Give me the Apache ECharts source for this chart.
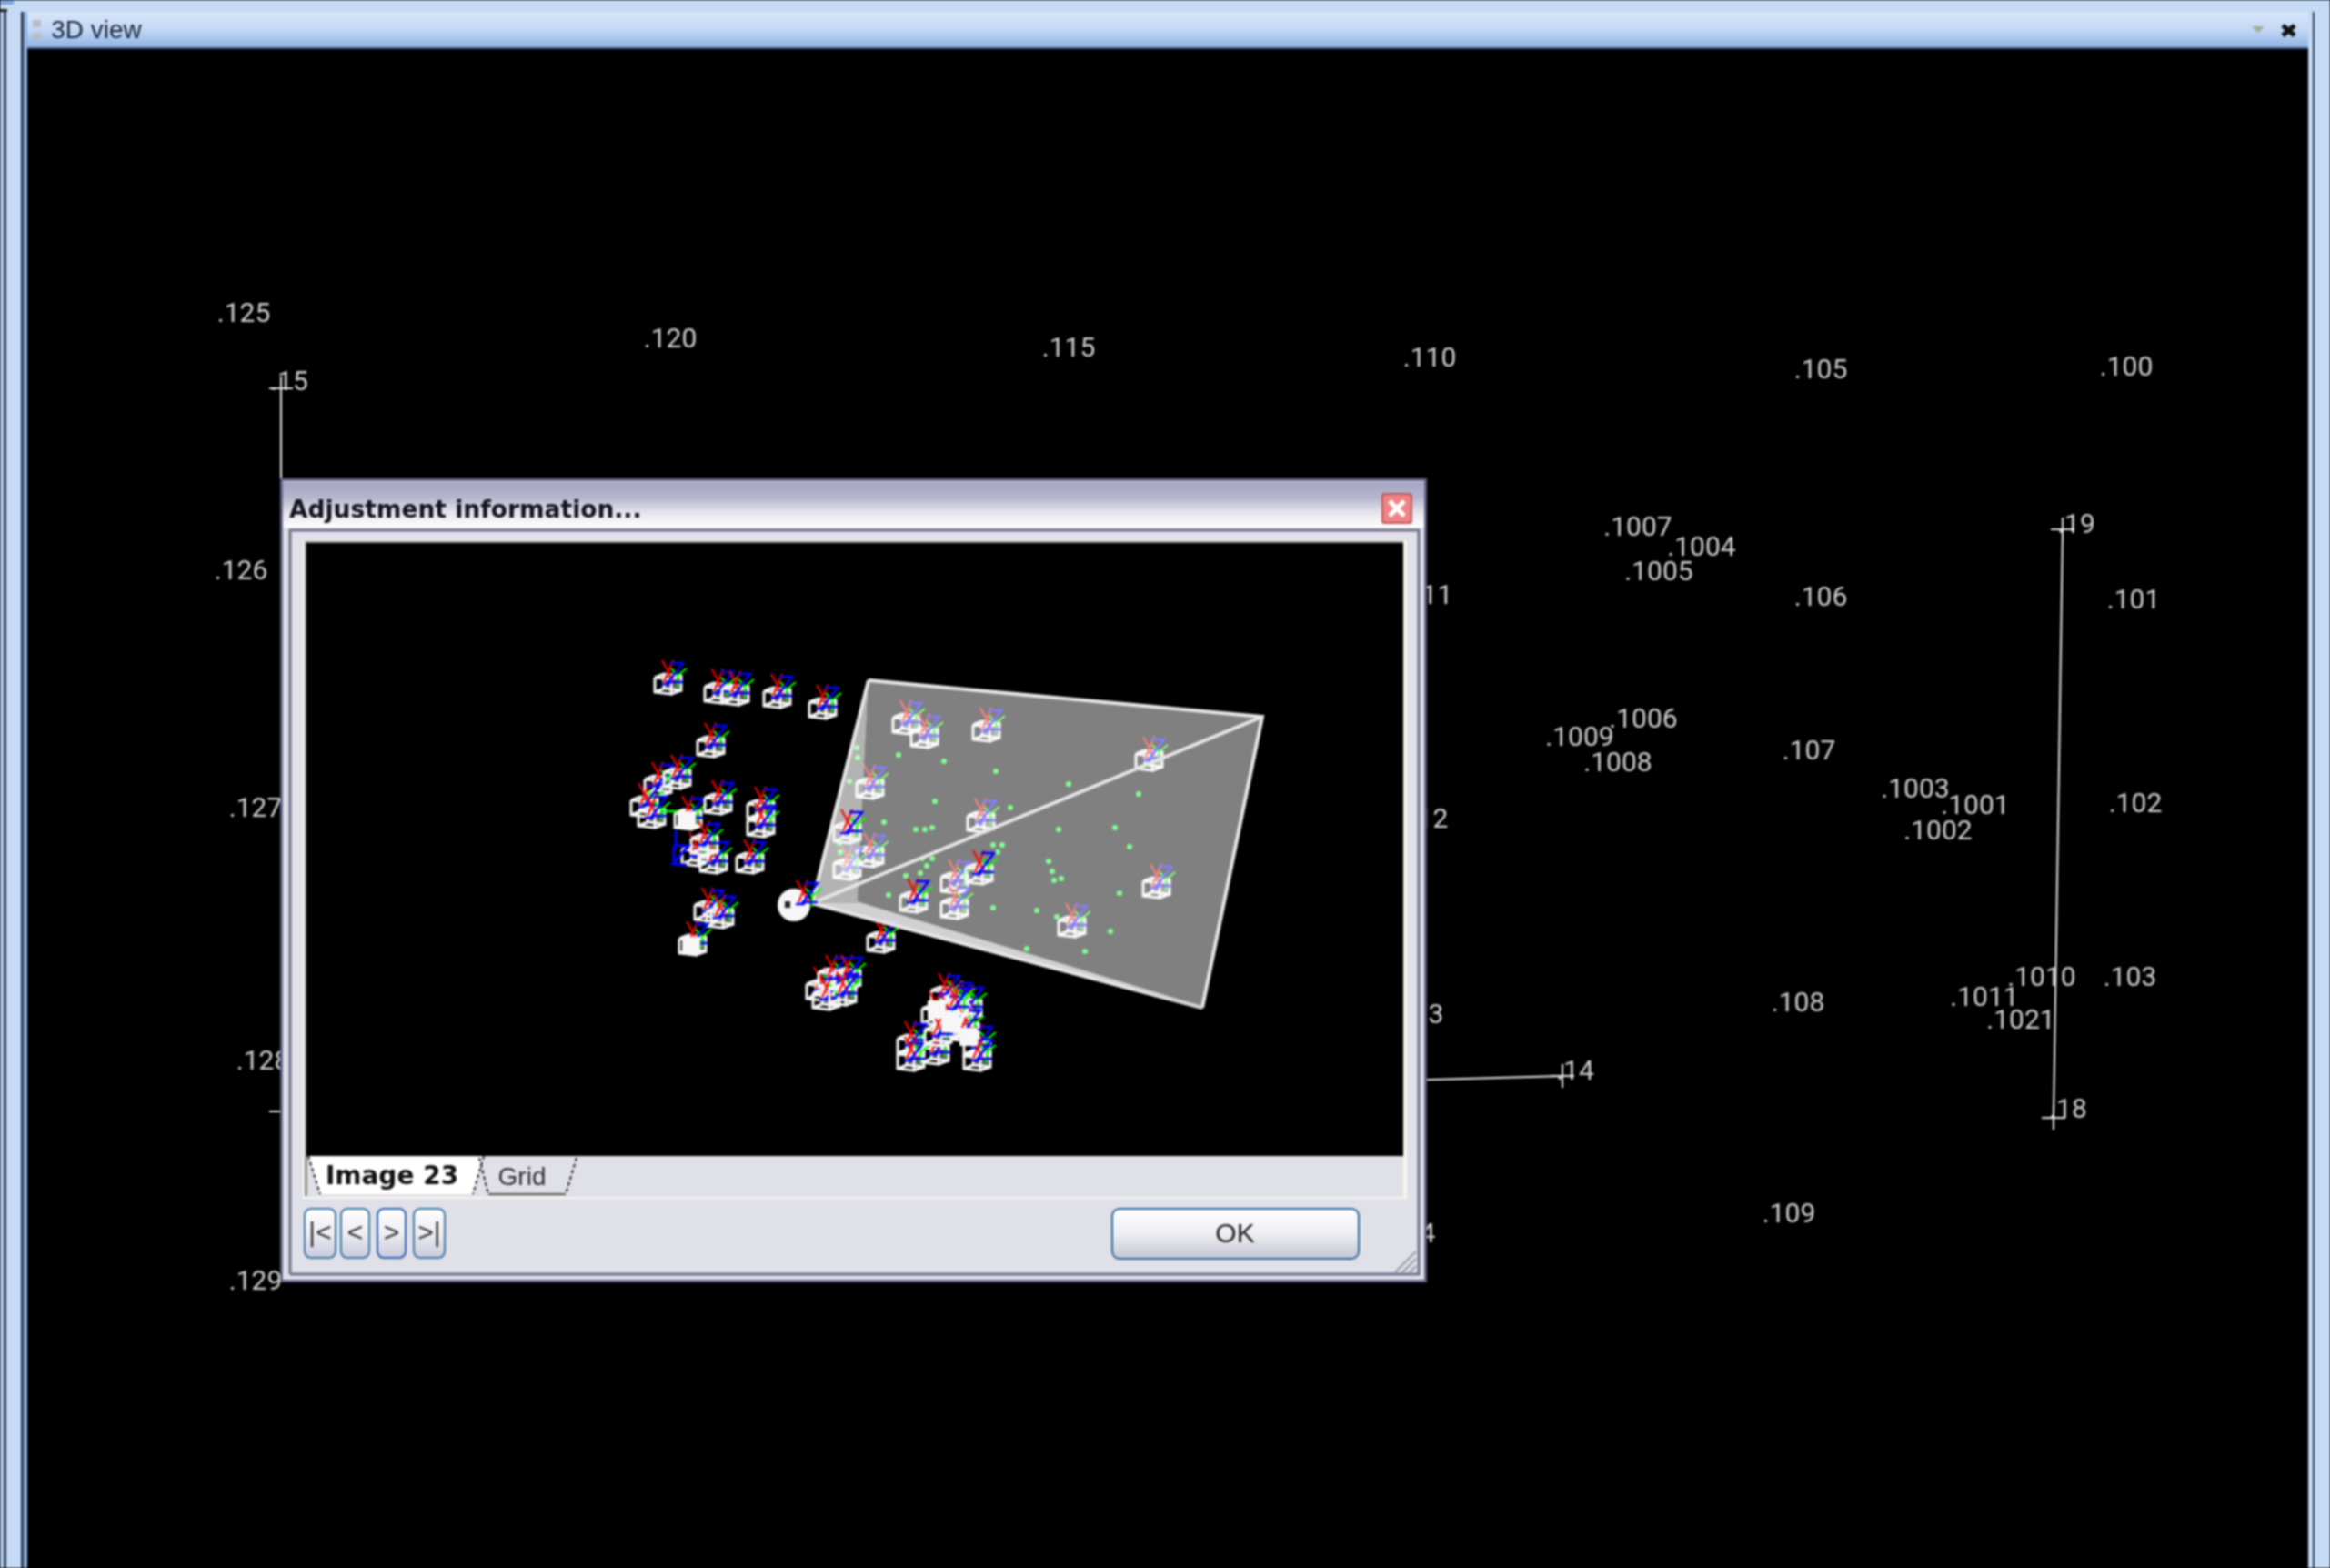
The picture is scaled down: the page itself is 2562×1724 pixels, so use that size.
<!DOCTYPE html>
<html>
<head>
<meta charset="utf-8">
<style>html,body{margin:0;padding:0;background:#000}#c{width:2562px;height:1724px}#c canvas{filter:blur(0.8px)}</style>
<script src="https://cdn.jsdelivr.net/npm/echarts@6/dist/echarts.min.js"></script>
</head>
<body>
<div id="c"></div>
<script>
// ---- picture data (x to the right, y downward) ----
const labelNames = ['.125','.120','.115','.110','.105','.100','.126','.127','.128','.129','.15','.19','.14','.18','.111','.112','.113','.114','.106','.107','.108','.109','.101','.102','.103','.1007','.1004','.1005','.1006','.1009','.1008','.1003','.1001','.1002','.1010','.1011','.1021'];
const labelX = [268,737,1175,1572,2002,2338,265,281,289,281,318,2283,1732,2274,1568,1563,1558,1549,2002,1989,1977,1967,2346,2348,2342,1801,1871,1824,1807,1737,1779,2106,2172,2131,2245,2182,2222];
const labelY = [343,371,381,392,405,402,626,887,1165,1407,418,575,1176,1218,653,899,1114,1355,655,824,1101,1333,658,882,1073,578,600,627,789,809,837,866,884,912,1073,1095,1120];
const controlLeftX = [309,309,1718], controlLeftY = [427,1222,1183];
const controlRightX = [2268,2258], controlRightY = [582,1229];
const crossX = [309,2268,1718,2258,309], crossY = [427,582,1183,1229,1222];
const tiePointX = [988,1038,1095,1175,1252,1028,1111,972,1007,1017,1025,1164,1226,1242,1092,1102,1097,1014,1025,1019,1012,996,1153,1157,1167,1159,1231,977,1092,1140,1162,1221,1129,1193,942,943,934,923,924];
const tiePointY = [830,837,848,862,873,881,888,904,912,912,910,912,910,931,929,929,937,944,944,952,960,963,947,958,966,968,982,984,998,1001,1008,1024,1043,1046,822,833,859,927,937];
const behindCamX = [995,1015,1083,1262,955,1077,1270,1177,1048,1048,955,930,967];
const behindCamY = [797,812,805,837,868,905,977,1020,972,1000,943,957,1037];
const frontCamX = [1003,1075,930,733,788,807,853,903,780,722,743,707,715,755,788,835,835,763,783,773,823,777,790,760,900,913,930,907,925,1037,1063,1027,1000,1027,1073,1043,1000,1073,1050,1040,1060,1030,1048];
const frontCamY = [993,962,917,753,763,765,768,780,822,865,857,888,900,902,885,892,910,942,950,930,950,1003,1010,1040,1090,1077,1077,1100,1095,1097,1110,1117,1150,1160,1153,1130,1167,1167,1105,1120,1135,1140,1110];
const solidCamX = [755,760,1045,1030,1065], solidCamY = [902,1040,1125,1110,1140];
const apexCam = [873,995];
const planeX = [955,1388,1322,943], planeY = [748,788,1108,993];
const selectedZX = [743,743,741,757,740,755,741,741], selectedZY = [913,930,930,930,950,951,930,950];
const tabNames = ['Image 23','Grid'];
const navButtons = ['|<','<','>','>|'];

const UI = '"DejaVu Sans"';
const rect = (x,y,w,h,fill,extra)=>Object.assign({type:'rect',shape:{x,y,width:w,height:h},style:{fill},silent:true},extra||{});
const grad = (...c)=>({type:'linear',x:0,y:0,x2:0,y2:1,colorStops:c.map((col,i)=>({offset:i/(c.length-1),color:col}))});
const line = (pts,stroke,w,dash)=>({type:'polyline',shape:{points:pts},style:{stroke,lineWidth:w,fill:null,lineDash:dash||null},silent:true});
const poly = (pts,fill)=>({type:'polygon',shape:{points:pts},style:{fill},silent:true});
const text = (t,x,y,font,fill,align)=>({type:'text',style:{text:t,x,y,font,fill,align:align||'center',verticalAlign:'middle'},silent:true});

const chrome = [
  // application frame
  rect(0,0,2562,13,'#c5dbf5'), rect(0,0,15,5,'#7fa6de'),
  rect(0,13,30,1711,'#c5dbf5'), rect(0,13,3,1711,'#a9c4ec'), rect(4,13,3,1711,'#2f3a52'),
  rect(23,13,3,1711,'#2f3a52'), rect(26,13,4,1711,'#8fb0dc'),
  rect(0,10,8,3,'#222'),
  rect(2538,13,24,1711,'#c5dbf5'), rect(2543,13,2,1711,'#2f3a52'),
  rect(30,13,2508,39,grad('#d8e6fb','#c3d8f5','#8fb3e3')), rect(30,52,2508,2,'#3d5888'),
  rect(36,22,9,8,'#b9bcc4'), rect(36,36,9,7,'#b9bcc4'),
  text('3D view',106,34,'28px "Liberation Sans"','#1c2740'),
  poly([[2476,29],[2490,29],[2483,36]],'#a6ab98'),
  line([[2510,28],[2523,39]],'#111',5), line([[2523,28],[2510,39]],'#111',5),
  // dialog frame
  rect(308,526,1261,884,'#5f6186'), rect(311,529,1255,878,'#e0e0e8'),
  rect(311,530,1255,50,grad('#a5a5c5','#b5b5cd','#e4e4ec','#ffffff')),
  text('Adjustment information...',318,562,'bold 26.5px '+UI,'#14141e','left'),
  rect(1519,542,34,34,'#c05a5a',{shape:{x:1519,y:542,width:34,height:34,r:3}}),
  rect(1521,544,30,30,'#ee8484',{shape:{x:1521,y:544,width:30,height:30,r:2}}),
  line([[1528,551],[1544,567]],'#fff',5), line([[1544,551],[1528,567]],'#fff',5),
  rect(318,583,1242,818,'#e0e0e8'),
  line([[319,1401],[319,583],[1560,583],[1560,1401],[319,1401]],'#70728e',3),
  rect(333,594,1214,724,'#f6f6ee'), rect(335,597,1208,719,'#e0e0e8'),
  rect(335,595,3,720,'#8f8f88'), rect(335,595,1208,3,'#8f8f88'),
  rect(337,597,1206,674,'#000'),
  // tabs
  poly([[339,1271],[532,1271],[520,1313],[352,1313]],'#fff'),
  line([[339,1271],[352,1313]],'#222',2,[4,3]), line([[532,1271],[520,1313]],'#222',2,[4,3]),
  line([[527,1273],[537,1313]],'#222',2,[4,3]), line([[634,1273],[622,1313]],'#222',2,[4,3]),
  line([[537,1313],[622,1313]],'#555',2),
  text(tabNames[0],431,1295,'bold 28px '+UI,'#111'),
  text(tabNames[1],574,1295,'28px "Liberation Sans"','#333'),
  // grip
  line([[1557,1376],[1534,1399]],'#9a9aa6',2), line([[1557,1384],[1542,1399]],'#9a9aa6',2), line([[1557,1392],[1550,1399]],'#9a9aa6',2),
  // OK button
  rect(1223,1329,271,55,grad('#ffffff','#eeeef4','#c4c4d4'),{shape:{x:1223,y:1329,width:271,height:55,r:8},style:{fill:grad('#ffffff','#eeeef4','#c4c4d4'),stroke:'#2c6a9c',lineWidth:2}}),
  text('OK',1358,1358,'30px "Liberation Sans"','#222')
];
[[335,34,false],[375,31,false],[415,31,true],[455,34,false]].forEach(([x,w,hot],i)=>{
  chrome.push(rect(x,1329,w,54,'',{shape:{x,y:1329,width:w,height:54,r:7},style:{fill:grad('#ffffff','#eeeef4','#c8c8dc'),stroke:hot?'#2b62b4':'#3f7ba8',lineWidth:2}}));
  chrome.push(text(navButtons[i],x+w/2,1357,'30px "Liberation Sans"','#333'));
});

const W = '#f6f6f6';
function axes(api,x,y){
  const p = api.coord([x,y]);
  const at = (d)=>[p[0]+d[0],p[1]+d[1]];
  const pl = (ds,c,w)=>line(ds.map(at),c,w||2);
  return [
    pl([[-5,-27],[8,-3]],'#ff0000'), pl([[7,-27],[-3,-3]],'#ff0000'),
    pl([[12,2],[12,-10],[5,-18]],'#00ff00'), pl([[12,-10],[22,-18]],'#00ff00'),
    pl([[4,-24],[18,-24],[2,-3],[18,-3]],'#0000ff',2.5), pl([[-6,-1],[4,-1]],'#0000ff',2.5)
  ];
}
function cube(api,x,y){
  const p = api.coord([x,y]);
  const at = (d)=>[p[0]+d[0],p[1]+d[1]];
  const pl = (ds)=>line(ds.map(at),W,3);
  return [
    poly([[-3,-12],[16,-10],[16,6],[-3,4]].map(at),'rgba(255,255,255,0.35)'),
    pl([[-3,-12],[16,-10],[16,6],[-3,4],[-3,-12]]),
    pl([[-13,-8],[5,-6],[5,10],[-13,8],[-13,-8]]),
    pl([[-13,-8],[-3,-12]]), pl([[5,-6],[16,-10]]), pl([[5,10],[16,6]]), pl([[-13,8],[-3,4]])
  ];
}
const camSeries = (xs,ys,z,name)=>({
  type:'custom', name, z, silent:true, animation:false, clip:false,
  data:xs.map((x,i)=>[x,ys[i]]),
  encode:{x:0,y:1},
  renderItem:(ps,api)=>({type:'group',children:cube(api,api.value(0),api.value(1)).concat(axes(api,api.value(0),api.value(1)))})
});

const option = {
  backgroundColor:'#000',
  animation:false,
  grid:{left:0,right:0,top:0,bottom:0},
  xAxis:{type:'value',min:0,max:2562,show:false},
  yAxis:{type:'value',min:0,max:1724,inverse:true,show:false},
  graphic:{elements:chrome},
  series:[
    {type:'line',z:-2,silent:true,symbol:'none',data:controlLeftX.map((x,i)=>[x,controlLeftY[i]]),lineStyle:{color:'#e8e8e8',width:2}},
    {type:'line',z:-2,silent:true,symbol:'none',data:controlRightX.map((x,i)=>[x,controlRightY[i]]),lineStyle:{color:'#e8e8e8',width:2}},
    {type:'scatter',z:-2,silent:true,data:crossX.map((x,i)=>[x,crossY[i]]),
      symbol:'path://M-1.5 -20H1.5V-1.5H20V1.5H1.5V20H-1.5V1.5H-20V-1.5H-1.5Z',symbolSize:26,itemStyle:{color:'#e8e8e8',opacity:1}},
    {type:'scatter',z:-1,silent:true,symbolSize:1,itemStyle:{color:'rgba(0,0,0,0)'},
      data:labelNames.map((n,i)=>[labelX[i],labelY[i],n]),
      label:{show:true,position:'inside',offset:[0,3],formatter:p=>p.data[2],color:'#ffffff',fontFamily:'Roboto',fontWeight:400,fontSize:30}},
    // behind the image plane
    camSeries(behindCamX,behindCamY,10,'behind'),
    {type:'scatter',z:10,silent:true,data:tiePointX.map((x,i)=>[x,tiePointY[i]]),symbolSize:6,itemStyle:{color:'#00ff20',opacity:1}},
    // image plane and frustum
    {type:'custom',z:11,silent:true,animation:false,clip:false,data:[0],
      renderItem:(ps,api)=>{
        const c = planeX.map((x,i)=>api.coord([x,planeY[i]]));
        const a = api.coord(apexCam);
        const ax = [a[0]+20,a[1]-2];
        return {type:'group',children:[
          poly(c,'rgba(255,255,255,0.5)'),
          poly([ax,c[0],c[3]],'rgba(255,255,255,0.7)'),
          poly([ax,c[3],c[2]],'rgba(255,255,255,0.82)'),
          line([ax,c[0]],'#e6e6e6',4), line([ax,c[1]],'#e6e6e6',4), line([ax,c[2]],'#e6e6e6',4),
          line([c[0],c[1],c[2]],'#e6e6e6',4), line([c[2],c[3]],'#d0d0d0',3)
        ]};
      }},
    // solid camera bodies
    {type:'scatter',z:12,silent:true,symbol:'rect',symbolSize:20,data:solidCamX.map((x,i)=>[x,solidCamY[i]]),itemStyle:{color:W,opacity:1}},
    camSeries(frontCamX,frontCamY,12,'front'),
    // apex camera with disc
    {type:'custom',z:13,silent:true,animation:false,clip:false,data:[apexCam],encode:{x:0,y:1},
      renderItem:(ps,api)=>{
        const p = api.coord(apexCam);
        return {type:'group',children:[
          {type:'circle',shape:{cx:p[0],cy:p[1],r:18},style:{fill:W},silent:true},
          {type:'rect',shape:{x:p[0]-10,y:p[1]-4,width:6,height:7},style:{fill:'#222'},silent:true}
        ].concat(axes(api,apexCam[0]+8,apexCam[1]))};
      }},
    // highlighted axes near the solid camera
    {type:'custom',z:13,silent:true,animation:false,clip:false,data:[0],
      renderItem:(ps,api)=>{
        const pts = selectedZX.map((x,i)=>api.coord([x,selectedZY[i]]));
        return {type:'group',children:[
          line(pts.slice(0,6),'#0000ff',3), line(pts.slice(6),'#0000ff',3),
          line([api.coord([728,892]),api.coord([745,892])],'#00ff00',2.5)
        ]};
      }}
  ]
};
const chart = echarts.init(document.getElementById('c'),null,{renderer:'canvas',width:2562,height:1724});
chart.setOption(option);
</script>
</body>
</html>
